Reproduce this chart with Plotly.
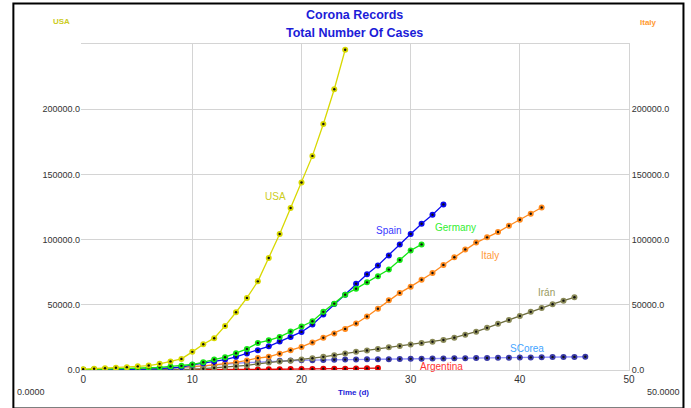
import plotly.graph_objects as go

# ---------------- data (total cases by day) ----------------
usa = [600, 960, 1300, 1700, 2200, 2800, 3400, 4700, 6600, 8500, 13900, 19800, 24400,
       33800, 44300, 55300, 68000, 85900, 104300, 124200, 143800, 164200, 188700, 215300, 245600]
spain = [120, 165, 222, 259, 400, 500, 673, 1073, 1695, 2277, 4000, 5200, 6500, 8000, 10100,
         12600, 15200, 18200, 21800, 25400, 29200, 34800, 42500, 50700, 57800, 66200, 73400,
         80200, 87900, 96300, 104300, 112200, 119100, 127000]
germany = [262, 482, 670, 795, 1040, 1139, 1457, 1908, 2745, 3200, 4200, 6000, 8000, 9800,
           12900, 16200, 20800, 22800, 25400, 29500, 33300, 37400, 44600, 50900, 57800, 62400,
           67200, 71800, 77000, 84400, 91700, 96300]
italy = [79, 155, 229, 322, 453, 655, 888, 1128, 1694, 2036, 2502, 3089, 3858, 4636, 5883,
         7375, 9172, 10149, 12462, 15113, 17660, 21157, 24747, 27980, 31506, 35713, 41035,
         47021, 53578, 59138, 63927, 69176, 74386, 80589, 86498, 92472, 97689, 101739,
         105792, 110574, 115242, 119827, 124632]
iran = [2, 5, 18, 28, 43, 61, 95, 139, 245, 388, 593, 978, 1501, 2336, 2922, 3513, 4747,
        5823, 6566, 7161, 8042, 9000, 10075, 11364, 12729, 13938, 14991, 16169, 17361, 18407,
        19644, 20610, 21638, 23049, 24811, 27017, 29406, 32332, 35408, 38309, 41495, 44605,
        47593, 50468, 53183, 55743]
scorea = [31, 31, 104, 204, 433, 602, 833, 977, 1261, 1766, 2337, 3150, 3736, 4335, 5186,
          5621, 6088, 6593, 7041, 7314, 7478, 7513, 7755, 7869, 7979, 8086, 8162, 8236, 8320,
          8413, 8565, 8652, 8799, 8897, 8961, 9037, 9137, 9241, 9332, 9478, 9583, 9661, 9786,
          9887, 9976, 10062, 10156]
argentina = [12, 17, 19, 21, 31, 34, 45, 56, 65, 79, 97, 128, 158, 266, 301, 387, 387, 502,
             589, 690, 745, 820, 1054, 1054, 1054, 1133, 1265, 1451]

y_ticks = [0, 50000, 100000, 150000, 200000]
x_ticks = [0, 10, 20, 30, 40, 50]
x_grid = [10, 20, 30, 40]

# name, values, line colour, marker colour, label colour, label x (day), label y
series = [
    ("Argentina", argentina, "#e60000", "#e60000", "#ff3333", 32.8, 2900),
    ("SCorea", scorea, "#9090ff", "#3a3aa8", "#44a4ff", 40.7, 16700),
    ("Italy", italy, "#ff8a1e", "#ff8a1e", "#ff9a3a", 37.3, 87700),
    ("Irán", iran, "#6e6e40", "#8a8a58", "#9a9a60", 42.4, 59100),
    ("Spain", spain, "#0a0af0", "#0a0af0", "#3a3aff", 28.0, 106800),
    ("Germany", germany, "#14e614", "#14e614", "#33ee33", 34.1, 109300),
    ("USA", usa, "#d8d800", "#d8d800", "#cccc22", 17.6, 132850),
]

FONT = "Liberation Sans, Arial, Helvetica, sans-serif"
fig = go.Figure()

for name, vals, lc, mc, tc, lx, ly in series:
    days = list(range(len(vals)))
    fig.add_trace(go.Scatter(
        x=days, y=vals, mode="lines+markers", name=name,
        line=dict(color=lc, width=1.3),
        marker=dict(color=mc, size=6, line=dict(width=0)),
        hoverinfo="x+y+name"))
    fig.add_trace(go.Scatter(
        x=days, y=vals, mode="markers", showlegend=False, hoverinfo="skip",
        marker=dict(color="#111111", size=2.4, line=dict(width=0))))
    fig.add_annotation(x=lx, y=ly, xref="x", yref="y", text=name, showarrow=False,
                       font=dict(family=FONT, size=10, color=tc))

# invisible trace on secondary axes so they render
fig.add_trace(go.Scatter(x=[0], y=[0], xaxis="x2", yaxis="y2", mode="markers",
                         marker=dict(opacity=0), showlegend=False, hoverinfo="skip"))

GRID = "#d4d4d4"
fig.update_layout(
    width=691, height=408,
    margin=dict(l=81, r=61.5, t=44, b=37.5),
    paper_bgcolor="white", plot_bgcolor="white",
    showlegend=False,
    font=dict(family=FONT, color="#333333"),
    xaxis=dict(range=[-0.2, 50.001], tickvals=x_ticks, showgrid=False, zeroline=False,
               showline=True, linecolor=GRID, linewidth=1, mirror=True, ticks="",
               tickfont=dict(size=10, color="#333333")),
    xaxis2=dict(range=[-0.2, 50.001], overlaying="x", tickvals=x_grid, showgrid=True,
                gridcolor=GRID, gridwidth=1, showticklabels=False, zeroline=False,
                ticks=""),
    yaxis=dict(range=[0, 250000], tickvals=y_ticks, tickformat=".1f", showgrid=True,
               gridcolor=GRID, gridwidth=1, zeroline=False, showline=False, ticks="",
               tickfont=dict(size=9, color="#333333")),
    yaxis2=dict(range=[0, 250000], overlaying="y", side="right", tickvals=y_ticks,
                tickformat=".1f", showgrid=False, zeroline=False, showline=True,
                linecolor=GRID, linewidth=1, ticks="",
                tickfont=dict(size=9, color="#333333")),
)

TITLE_BLUE = "#1c1cd8"
ann = [
    dict(x=0.4986, y=1.0903, text="<b>Corona Records</b>", font=dict(size=12.5, color=TITLE_BLUE)),
    dict(x=0.4986, y=1.0352, text="<b>Total Number Of Cases</b>", font=dict(size=12.5, color=TITLE_BLUE)),
    dict(x=-0.0359, y=1.0704, text="<b>USA</b>", font=dict(size=8, color="#cccc22")),
    dict(x=1.036, y=1.0674, text="<b>Italy</b>", font=dict(size=8, color="#ff9a30")),
    dict(x=-0.0921, y=-0.0689, text="0.0000", font=dict(size=9, color="#333333")),
    dict(x=1.0629, y=-0.0689, text="50.0000", font=dict(size=9, color="#333333")),
    dict(x=0.4977, y=-0.0689, text="<b>Time (d)</b>", font=dict(size=8, color=TITLE_BLUE)),
]
for a in ann:
    a["font"]["family"] = FONT
    fig.add_annotation(xref="paper", yref="paper", showarrow=False,
                       xanchor="center", yanchor="middle", **a)

# outer black frame
fig.add_shape(type="rect", xref="paper", yref="paper",
              x0=-0.1234, x1=1.0994, y0=-0.1179, y1=1.1246,
              line=dict(color="black", width=2), layer="above")

fig.write_html(
    "out.html",
    config={"displayModeBar": False},
    post_script="document.body.style.margin='0';document.body.style.overflow='hidden';",
)
